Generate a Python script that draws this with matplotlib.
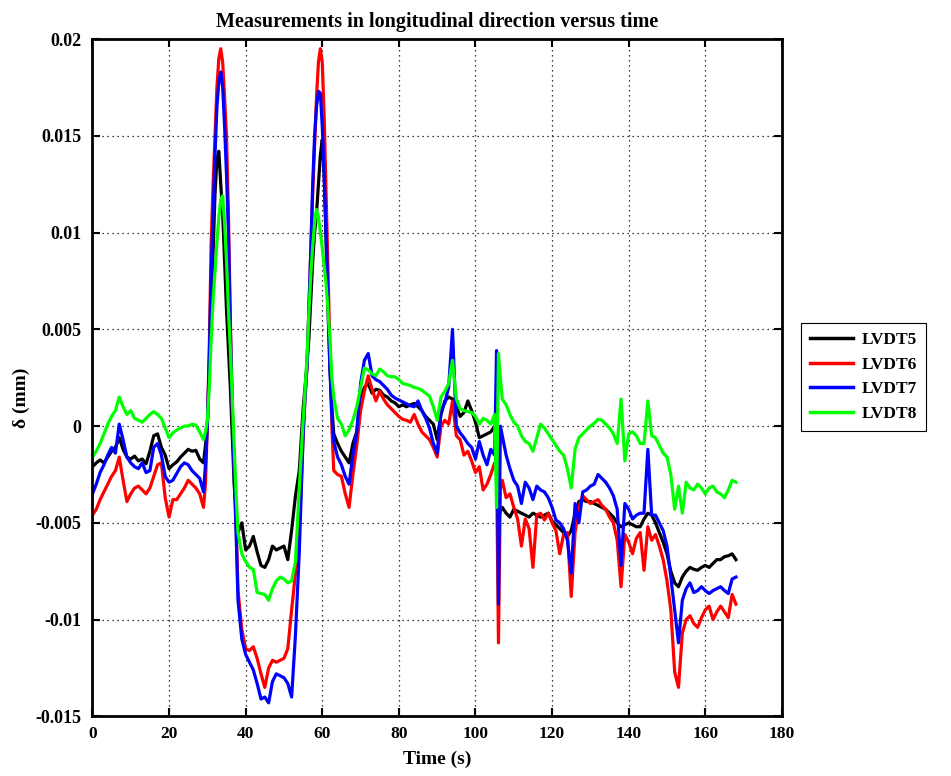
import numpy as np
import matplotlib
matplotlib.use("Agg")
import matplotlib.pyplot as plt

plt.rcParams['font.family'] = ['Liberation Serif', 'DejaVu Serif']
plt.rcParams['font.weight'] = 'bold'

# time (s): 1 s steps, 0.5 s steps through the two peaks and the spike near 106 s
time = [0, 1, 2, 3, 4, 5, 6, 7, 8, 9, 10, 11, 12, 13, 14, 15, 16, 17, 18, 19,
        20, 21, 22, 23, 24, 25, 26, 27, 28, 29,
        29.5, 30, 30.5, 31, 31.5, 32, 32.5, 33, 33.5, 34, 34.5, 35, 35.5, 36, 36.5, 37, 37.5, 38,
        39, 40, 41, 42, 43, 44, 45, 46, 47, 48, 49, 50, 51, 52, 53, 54, 55,
        55.5, 56, 56.5, 57, 57.5, 58, 58.5, 59, 59.5, 60, 60.5, 61, 61.5, 62, 62.5, 63,
        64, 65, 66, 67, 68, 69, 70, 71, 72, 73, 74, 75, 76, 77, 78, 79, 80, 81, 82, 83,
        84, 85, 86, 87, 88, 89, 90, 91, 92, 93, 94, 95, 96, 97, 98, 99, 100, 101, 102, 103,
        104, 105,
        105.5, 106, 106.5,
        107, 108, 109, 110, 111, 112, 113, 114, 115, 116, 117, 118, 119, 120, 121, 122, 123, 124, 125, 126,
        127, 128, 129, 130, 131, 132, 133, 134, 135, 136, 137, 138, 139, 140, 141, 142, 143, 144, 145, 146,
        147, 148, 149, 150, 151, 152, 153, 154, 155, 156, 157, 158, 159, 160, 161, 162, 163, 164, 165, 166,
        167, 168]

# displacements in 1e-3 mm
lvdt5 = [-2.1, -1.9, -1.75, -1.9, -1.6, -1.3, -1.1, -0.6, -1.2, -1.6, -1.7, -1.55, -1.8, -1.7, -1.95, -1.3, -0.5, -0.4, -1.1, -1.5,
         -2.2, -2.0, -1.85, -1.6, -1.4, -1.2, -1.3, -1.25, -1.7, -1.9,
         -1.0, 0.0, 3.0, 6.5, 9.0, 12.0, 13.8, 14.2, 12.5, 11.0, 8.5, 6.0, 4.0, 2.0, -0.5, -3.0, -4.5, -5.5,
         -5.0, -6.4, -6.2, -5.7, -6.5, -7.2, -7.3, -6.9, -6.2, -6.4, -6.3, -6.2, -6.9, -5.4, -3.6, -2.3, 0.9,
         2.0, 3.2, 4.5, 6.5, 8.5, 10.0, 11.0, 12.5, 14.0, 14.8, 13.0, 9.5, 6.0, 3.0, 1.0, -0.4,
         -0.9, -1.3, -1.6, -1.9, -0.9, -0.3, 1.3, 2.0, 2.2, 1.7, 1.9, 1.85, 1.6, 1.5, 1.3, 1.2, 1.0, 1.1, 1.0, 1.1,
         1.17, 1.0, 0.8, 0.5, 0.3, 0.1, -0.7, 0.6, 1.3, 1.5, 1.4, 1.0, 0.5, 0.7, 1.3, 0.8, 0.2, -0.6, -0.5, -0.4,
         -0.3, 0.0,
         -0.2, -4.8, -4.4,
         -4.2, -4.5, -4.7, -4.3, -4.4, -4.5, -4.6, -4.7, -4.5, -4.6, -4.7, -4.6, -4.5, -4.9, -5.1, -5.3, -5.5, -5.7, -5.4, -4.5,
         -3.9, -3.8, -3.9, -3.9, -4.0, -4.1, -4.2, -4.3, -4.5, -4.7, -5.0, -5.2, -5.1, -5.0, -5.1, -5.2, -5.2, -4.8, -4.5, -4.6,
         -5.0, -5.5, -6.0, -6.6, -7.5, -8.1, -8.3, -7.8, -7.5, -7.3, -7.4, -7.45, -7.3, -7.2, -7.3, -7.1, -6.9, -6.9, -6.75, -6.7,
         -6.6, -6.9]

lvdt6 = [-4.6, -4.3, -3.8, -3.4, -3.0, -2.6, -2.3, -1.6, -2.8, -3.9, -3.5, -3.2, -3.1, -3.3, -3.5, -3.2, -2.6, -2.0, -1.9, -3.7,
         -4.7, -3.8, -3.8, -3.5, -3.2, -2.8, -3.0, -3.2, -3.5, -4.2,
         -3.0, 0.0, 4.0, 9.5, 12.5, 15.0, 17.5, 19.0, 19.5, 18.8, 17.0, 15.0, 11.0, 5.5, 1.0, -2.0, -5.0, -8.5,
         -10.5, -11.5, -11.6, -11.4, -12.0, -12.8, -13.5, -12.5, -12.1, -12.2, -12.1, -12.0, -11.5, -9.5, -7.6, -5.5, -0.5,
         1.5, 3.0, 6.0, 9.0, 12.0, 14.5, 17.0, 18.8, 19.5, 18.8, 16.0, 12.0, 8.0, 4.0, 0.0, -2.3,
         -2.5, -2.6, -3.5, -4.2, -2.5, -1.0, 0.8, 1.8, 2.6, 1.9, 1.3, 1.8, 1.4, 1.1, 0.9, 0.7, 0.5, 0.35, 0.3, 0.2,
         0.6, 0.1, -0.3, -0.5, -0.7, -1.1, -1.6, 0.0, 0.3, 0.1, 1.3, -0.5, -0.7, -1.5, -1.3, -1.8, -2.4, -2.1, -3.3, -3.0,
         -2.5, -1.9,
         -2.0, -11.2, -3.2,
         -2.8, -3.7, -3.5, -4.2, -4.8, -6.2, -4.8, -5.3, -7.3, -4.6, -4.5, -4.85, -4.5, -5.0, -5.4, -6.6, -5.6, -5.5, -8.8, -5.5,
         -4.2, -3.6, -3.8, -4.0, -3.9, -3.8, -4.1, -4.3, -4.7, -5.0, -5.9, -8.3, -5.6, -6.0, -6.6, -5.8, -5.5, -7.45, -5.2, -5.9,
         -5.6, -6.2, -6.9, -8.0, -9.5, -12.7, -13.5, -10.7, -10.0, -9.8, -10.2, -10.4, -9.9, -9.5, -9.3, -10.0, -9.6, -9.3, -9.6, -9.9,
         -8.7, -9.2]

lvdt7 = [-3.5, -3.0, -2.4, -2.0, -1.5, -1.1, -1.4, 0.1, -0.7, -1.6, -1.9, -2.1, -2.2, -1.9, -2.4, -2.3, -1.1, -0.9, -1.5, -2.6,
         -2.9, -2.8, -2.45, -2.1, -1.9, -2.0, -2.3, -2.5, -2.7, -3.4,
         -2.0, 0.0, 3.5, 8.0, 11.0, 14.0, 16.5, 17.8, 18.3, 17.5, 15.5, 13.0, 10.0, 5.0, 1.0, -2.5, -5.5, -9.0,
         -11.0, -11.8, -12.2, -12.6, -13.3, -14.1, -14.0, -14.3, -13.2, -12.8, -12.9, -13.0, -13.3, -14.0, -10.8, -6.5, -0.5,
         1.5, 3.0, 6.0, 9.0, 12.5, 15.0, 16.5, 17.3, 17.2, 15.5, 13.0, 10.0, 6.5, 3.0, 0.5, -0.8,
         -1.6, -2.0, -2.6, -3.0, -1.5, -0.3, 2.2, 3.4, 3.75, 2.6, 2.4, 2.3, 2.1, 1.9, 1.6, 1.45, 1.35, 1.25, 1.15, 1.05,
         1.0, 1.3, 0.8, 0.4, -0.1, -0.9, -1.4, 0.8, 1.2, 2.0, 5.0, 0.0, -0.35, -0.6, -0.9, -1.1, -1.7, -0.8, -1.5, -2.0,
         -1.2, -1.5,
         3.9, -9.2, 0.0,
         -0.5, -1.5, -2.2, -2.8, -3.1, -4.0, -2.9, -3.2, -3.8, -3.1, -3.3, -3.4, -3.7, -4.2, -4.85, -5.0, -5.3, -5.9, -7.6, -4.0,
         -5.0, -3.4, -3.3, -3.1, -3.0, -2.5, -2.7, -2.9, -3.2, -3.6, -4.3, -7.2, -4.0, -4.3, -4.8, -4.6, -4.5, -4.5, -1.2, -4.6,
         -4.6, -5.0, -5.4, -6.2, -7.8, -9.5, -11.2, -9.0, -8.4, -8.1, -8.6, -8.5, -8.3, -8.5, -8.65, -8.5, -8.4, -8.3, -8.5, -8.65,
         -7.9, -7.8]

lvdt8 = [-1.6, -1.3, -0.9, -0.4, 0.1, 0.5, 0.8, 1.5, 1.0, 0.6, 0.8, 0.4, 0.3, 0.2, 0.4, 0.6, 0.75, 0.6, 0.4, -0.1,
         -0.6, -0.35, -0.2, -0.1, 0.0, 0.0, 0.1, 0.05, -0.3, -0.7,
         -0.3, 0.3, 2.0, 4.5, 6.5, 8.0, 9.5, 10.8, 11.7, 11.9, 10.5, 8.5, 6.0, 4.0, 1.5, -1.0, -3.5, -5.5,
         -6.6, -7.0, -7.3, -7.4, -8.6, -8.65, -8.7, -9.0, -8.4, -8.0, -7.8, -7.9, -8.1, -8.0, -7.0, -3.2, 0.3,
         1.8, 3.5, 5.8, 7.8, 9.3, 10.5, 11.2, 10.8, 10.0, 9.2, 8.3, 7.3, 6.0, 4.5, 2.5, 1.5,
         0.4, 0.1, -0.5, -0.2, 0.3, 1.0, 2.0, 3.0, 2.9, 2.7, 2.6, 2.95, 2.8, 2.6, 2.55, 2.55, 2.4, 2.2, 2.15, 2.1,
         2.0, 1.95, 1.85, 1.7, 1.55, 1.0, 0.3, 1.5, 1.8, 2.2, 3.4, 1.4, 0.9, 0.8, 0.75, 0.7, 0.5, 0.1, 0.4, 0.3,
         0.1, 0.6,
         -4.2, 3.75, 2.5,
         1.4, 1.1, 0.6, 0.2, 0.0, -0.5, -0.8, -0.9, -1.3, -0.6, 0.1, -0.1, -0.4, -0.7, -1.0, -1.3, -1.5, -2.2, -3.2, -1.2,
         -0.6, -0.4, -0.2, 0.0, 0.15, 0.35, 0.3, 0.1, -0.1, -0.4, -0.9, 1.4, -1.8, -0.4, -0.3, -0.5, -0.9, -0.9, 1.3, -0.5,
         -0.6, -1.0, -1.4, -1.6, -2.5, -4.3, -3.1, -4.5, -2.9, -3.2, -3.3, -3.0, -3.2, -3.5, -3.2, -3.1, -3.4, -3.5, -3.7, -3.3,
         -2.8, -2.9]

labels = ['LVDT5', 'LVDT6', 'LVDT7', 'LVDT8']
colors = ['#000000', '#ff0000', '#0000ff', '#00ff00']
series = [lvdt5, lvdt6, lvdt7, lvdt8]

yticks = [-0.015, -0.01, -0.005, 0, 0.005, 0.01, 0.015, 0.02]
ytick_labels = ['-0.015', '-0.01', '-0.005', '0', '0.005', '0.01', '0.015', '0.02']
xticks = [0, 20, 40, 60, 80, 100, 120, 140, 160, 180]

for s in series:
    assert len(s) == len(time), (len(s), len(time))

fig = plt.figure(figsize=(9.51, 7.76), dpi=100)
ax = fig.add_axes([0.0972, 0.0768, 0.7250, 0.8729])

for s, c, lab in zip(series, colors, labels):
    ax.plot(time, np.array(s) * 1e-3, color=c, lw=2.3, label=lab)

ax.set_xlim(0, 180)
ax.set_ylim(-0.015, 0.02)
ax.set_xticks(xticks)
ax.set_yticks(yticks)
ax.set_yticklabels(ytick_labels)
ax.grid(True, color='k', linestyle=(0, (1, 3)), linewidth=0.9)
ax.tick_params(direction='in', top=True, right=True, length=6, width=1.5)
ax.tick_params(axis='x', labelsize=12.5, pad=7)
ax.tick_params(axis='y', labelsize=13, pad=8)
for sp in ax.spines.values():
    sp.set_linewidth(2)

ax.set_title('Measurements in longitudinal direction versus time', fontsize=14.5, fontweight='bold', pad=9)
ax.set_xlabel('Time (s)', fontsize=14, fontweight='bold', labelpad=6)
ax.set_ylabel('δ (mm)', fontsize=14, fontweight='bold')
ax.yaxis.set_label_coords(-0.09, 0.47)

leg = ax.legend(loc='upper left', bbox_to_anchor=(0.8423, 0.5838), bbox_transform=fig.transFigure,
                fancybox=False, edgecolor='k', framealpha=1, fontsize=12.5, handlelength=2.5,
                borderpad=0.5, labelspacing=0.5, handletextpad=0.5, borderaxespad=0)
leg.get_frame().set_linewidth(0.8)
for line in leg.get_lines():
    line.set_linewidth(2.5)

fig.savefig('out.png', dpi=100)
